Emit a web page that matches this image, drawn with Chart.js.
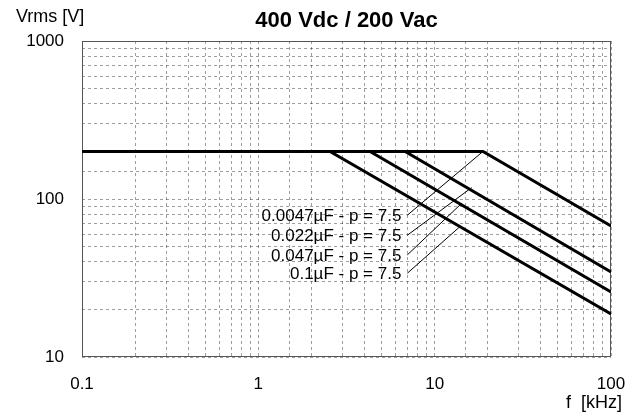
<!DOCTYPE html>
<html>
<head>
<meta charset="utf-8">
<script src="https://cdn.jsdelivr.net/npm/chart.js@4/dist/chart.umd.min.js"></script>
<style>
  html, body { margin: 0; padding: 0; background: #fff; }
  #wrap { width: 643px; height: 418px; position: relative; }
</style>
</head>
<body>
<div id="wrap"><canvas id="chart"></canvas></div>
<script>
// Curves: flat at plateau up to the corner frequency, then falling to endV at 100 kHz
const seriesLabels = ['0.0047\u00b5F - p = 7.5', '0.022\u00b5F - p = 7.5', '0.047\u00b5F - p = 7.5', '0.1\u00b5F - p = 7.5'];
const plateauV = [200, 200, 200, 200];
const cornerFreq = [18.8, 6.8, 4.3, 2.55];   // kHz
const endV = [67.5, 34.5, 25.8, 18.7];       // V at 100 kHz
const freqRange = [0.1, 100];
const voltRange = [10, 1000];

// Label leaders (start at the text, end on the curve)
const labelFreq = [7, 7, 7, 7];
const labelV = [79, 59, 44.3, 33.9];
const leaderEndFreq = [18.8, 16.2, 14.3, 13.9];
const leaderEndV = [200, 118, 94.4, 66.8];

const xTickLabels = [0.1, 1, 10, 100];
const yTickLabels = [10, 100, 1000];

const FONT = "'Liberation Sans', Arial, Helvetica, sans-serif";
Chart.defaults.font.family = FONT;
Chart.defaults.color = '#000';

const datasets = [];
seriesLabels.forEach((name, i) => {
    datasets.push({
        label: name,
        data: [
            { x: freqRange[0], y: plateauV[i] },
            { x: cornerFreq[i], y: plateauV[i] },
            { x: freqRange[1], y: endV[i] }
        ],
        borderColor: '#000',
        borderWidth: 3,
        showLine: true,
        pointRadius: 0,
        tension: 0
    });
});
seriesLabels.forEach((name, i) => {
    datasets.push({
        label: 'leader ' + i,
        data: [
            { x: labelFreq[i], y: labelV[i] },
            { x: leaderEndFreq[i], y: leaderEndV[i] }
        ],
        borderColor: '#000',
        borderWidth: 1,
        showLine: true,
        pointRadius: 0
    });
});

function tickText(list, v) {
    const t = list.find(t => Math.abs(t - v) / t < 1e-6);
    return t === undefined ? '' : String(t);
}

// frame + texts
const decorations = {
    id: 'decorations',
    beforeDatasetsDraw(chart) {
        const { ctx, chartArea: a } = chart;
        ctx.save();
        ctx.strokeStyle = '#555';
        ctx.lineWidth = 1;
        ctx.strokeRect(a.left + 0.5, a.top + 0.5, a.right - a.left - 1, a.bottom - a.top - 1);
        ctx.restore();
    },
    afterDraw(chart) {
        const { ctx, chartArea: a } = chart;
        const xs = chart.scales.x, ys = chart.scales.y;
        ctx.save();
        ctx.fillStyle = '#000';
        ctx.textBaseline = 'middle';

        ctx.font = 'bold 22px ' + FONT;
        ctx.textAlign = 'center';
        ctx.fillText('400 Vdc / 200 Vac', (a.left + a.right) / 2, 21);

        ctx.font = '18px ' + FONT;
        ctx.textAlign = 'left';
        ctx.fillText('Vrms [V]', 16, 17);
        ctx.textAlign = 'right';
        ctx.fillText('f  [kHz]', 622, 403);

        ctx.font = '17px ' + FONT;
        seriesLabels.forEach((name, i) => {
            const px = xs.getPixelForValue(labelFreq[i]);
            const py = ys.getPixelForValue(labelV[i]);
            ctx.fillText(name, px - 6, py + 1);
        });
        ctx.restore();
    }
};

const gridStyle = { color: 'rgba(0,0,0,0.38)', lineWidth: 1, drawTicks: false };
const borderStyle = { display: false, dash: [3, 3] };

new Chart(document.getElementById('chart'), {
    type: 'scatter',
    data: { datasets },
    options: {
        responsive: true,
        maintainAspectRatio: false,
        animation: false,
        layout: { padding: { left: 0, top: 41, right: 32, bottom: 0 } },
        plugins: {
            legend: { display: false },
            title: { display: false },
            tooltip: { enabled: false }
        },
        scales: {
            x: {
                type: 'logarithmic',
                min: freqRange[0],
                max: freqRange[1],
                afterFit(scale) { scale.height = 61; },
                border: borderStyle,
                grid: gridStyle,
                ticks: {
                    autoSkip: false,
                    maxRotation: 0,
                    padding: 17,
                    font: { size: 17 },
                    callback: v => tickText(xTickLabels, v)
                }
            },
            y: {
                type: 'logarithmic',
                min: voltRange[0],
                max: voltRange[1],
                afterFit(scale) { scale.width = 82; },
                border: borderStyle,
                grid: gridStyle,
                ticks: {
                    autoSkip: false,
                    padding: 18,
                    font: { size: 17 },
                    callback: v => tickText(yTickLabels, v)
                }
            }
        }
    },
    plugins: [decorations]
});
</script>
</body>
</html>
